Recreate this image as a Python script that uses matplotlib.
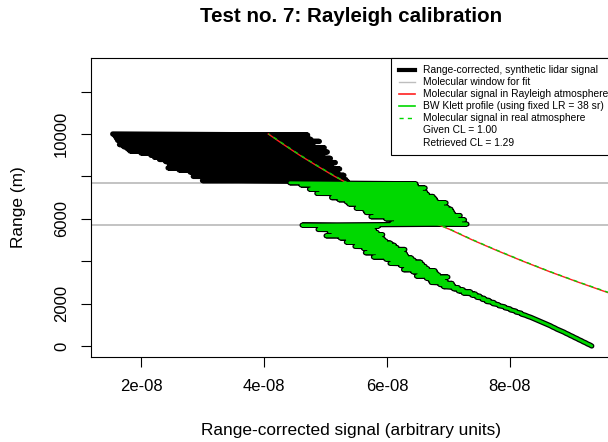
#!/usr/bin/env python3
"""Rayleigh calibration test plot: synthetic lidar signal, molecular fit window and Klett profile."""

import matplotlib

matplotlib.use("Agg")

import matplotlib.pyplot as plt
import numpy as np
from matplotlib.lines import Line2D

plt.rcParams["font.family"] = ["Liberation Sans", "DejaVu Sans"]

# Range gates of the synthetic profile (m)
RANGE_M = np.arange(0, 10001, 50)

# Range-corrected synthetic signal, in units of 1e-8 (one value per gate, 0 m upward)
SIGNAL_E8 = [
    9.33, 9.30, 9.26, 9.23, 9.19, 9.16, 9.12, 9.09, 9.05, 9.02,
    8.98, 8.95, 8.91, 8.88, 8.84, 8.80, 8.76, 8.73, 8.69, 8.66,
    8.62, 8.58, 8.54, 8.50, 8.46, 8.42, 8.38, 8.34, 8.29, 8.25,
    8.19, 8.18, 8.10, 8.09, 8.01, 8.00, 7.92, 7.91, 7.82, 7.81,
    7.72, 7.74, 7.62, 7.66, 7.55, 7.58, 7.46, 7.51, 7.38, 7.44,
    7.24, 7.36, 7.16, 7.24, 7.08, 7.16, 6.92, 7.08, 6.86, 7.06,
    6.72, 6.96, 6.70, 6.92, 6.64, 6.99, 6.48, 6.84, 6.52, 6.80,
    6.42, 6.78, 6.27, 6.66, 6.30, 6.62, 6.22, 6.58, 6.05, 6.55,
    6.08, 6.44, 5.98, 6.40, 5.78, 6.32, 5.84, 6.30, 5.65, 6.26,
    5.70, 6.29, 5.62, 6.16, 5.48, 6.12, 5.50, 6.06, 5.34, 5.98,
    5.36, 5.94, 5.24, 5.90, 5.01, 5.93, 5.12, 5.84, 5.06, 5.80,
    4.88, 5.78, 4.90, 5.86, 4.62, 7.30, 6.08, 7.20, 6.14, 7.26,
    5.98, 7.14, 5.74, 7.19, 5.80, 7.08, 5.66, 7.06, 5.64, 7.04,
    5.50, 6.98, 5.52, 6.90, 5.38, 6.96, 5.34, 6.80, 5.22, 6.78,
    5.10, 6.75, 5.12, 6.66, 4.86, 6.63, 4.92, 6.56, 4.74, 6.62,
    4.78, 6.48, 4.60, 6.47, 4.42, 5.36, 3.00, 5.33, 3.10, 5.22,
    2.85, 5.30, 2.94, 5.20, 2.80, 5.14, 2.62, 5.23, 2.44, 5.10,
    2.52, 5.06, 2.46, 5.16, 2.40, 5.00, 2.30, 5.08, 2.22, 4.92,
    2.16, 4.96, 2.00, 5.03, 1.82, 4.86, 1.78, 4.98, 1.72, 4.80,
    1.65, 4.74, 1.68, 4.90, 1.62, 4.76, 1.60, 4.62, 1.58, 4.71,
    1.54,
]

# Molecular window used for the fit (m); the backward Klett starts at its top
WINDOW_M = [5700, 7700]
KLETT_TOP_M = 7700

# Molecular range-corrected signals (1e-8)
MOL_RANGE_M = [2000, 2500, 3000, 3500, 4000, 4500, 5000, 5500, 6000,
               6500, 7000, 7500, 8000, 8500, 9000, 9500, 10000]
MOL_RAYLEIGH_E8 = [10.13, 9.61, 9.12, 8.65, 8.21, 7.79, 7.39, 7.02, 6.60,
                   6.20, 5.82, 5.47, 5.15, 4.86, 4.58, 4.32, 4.07]
MOL_REAL_E8 = [10.15, 9.63, 9.13, 8.66, 8.22, 7.80, 7.40, 7.03, 6.61,
               6.21, 5.83, 5.48, 5.16, 4.87, 4.59, 4.33, 4.08]

GIVEN_CL = 1.00
RETRIEVED_CL = 1.29
FIXED_LR = 38

X_TICKS = [2e-8, 4e-8, 6e-8, 8e-8]
X_TICK_LABELS = ["2e-08", "4e-08", "6e-08", "8e-08"]
Y_TICKS = [0, 2000, 4000, 6000, 8000, 10000, 12000]
Y_TICK_LABELS = ["0", "2000", "", "6000", "", "10000", ""]

GREEN = "#00D800"
WINDOW_GRAY = "#BEBEBE"


def make_plot(path="out.png"):
    W, H = 608, 442
    fig = plt.figure(figsize=(W / 100, H / 100), dpi=100)
    left, right, top, bottom = 91, 612, 57.5, 357
    ax = fig.add_axes([left / W, 1 - bottom / H, (right - left) / W, (bottom - top) / H])

    rng = np.asarray(RANGE_M)
    sig = np.asarray(SIGNAL_E8) * 1e-8
    klett = rng <= KLETT_TOP_M

    for level in WINDOW_M:
        ax.axhline(level, color=WINDOW_GRAY, linewidth=1.3, zorder=1)

    line_kw = dict(solid_capstyle="round", solid_joinstyle="round")
    ax.plot(sig, rng, color="black", linewidth=3.8, zorder=2, **line_kw)
    ax.plot(np.asarray(MOL_RAYLEIGH_E8) * 1e-8, MOL_RANGE_M, color="#FF2020",
            linewidth=1.0, zorder=3)
    ax.plot(np.asarray(MOL_REAL_E8) * 1e-8, MOL_RANGE_M, color=GREEN,
            linewidth=1.0, dashes=(3, 3), zorder=4)
    ax.plot(sig[klett], rng[klett], color=GREEN, linewidth=2.0, zorder=5, **line_kw)

    ax.set_xlim(1.187e-8, 9.659e-8)
    ax.set_ylim(-519, 13608)
    ax.set_xticks(X_TICKS)
    ax.set_xticklabels(X_TICK_LABELS)
    ax.set_yticks(Y_TICKS)
    ax.set_yticklabels(Y_TICK_LABELS, rotation=90, va="center")
    ax.tick_params(direction="out", length=7.2, width=0.8, labelsize=12, pad=8.5,
                   color="black")
    for spine in ax.spines.values():
        spine.set_linewidth(0.8)
        spine.set_color("black")

    handles = [
        Line2D([], [], color="black", linewidth=3.0),
        Line2D([], [], color=WINDOW_GRAY, linewidth=1.0),
        Line2D([], [], color="#FF2020", linewidth=1.2),
        Line2D([], [], color=GREEN, linewidth=1.2),
        Line2D([], [], color=GREEN, linewidth=1.0, dashes=(3, 3)),
        Line2D([], [], linestyle="none"),
        Line2D([], [], linestyle="none"),
    ]
    labels = [
        "Range-corrected, synthetic lidar signal",
        "Molecular window for fit",
        "Molecular signal in Rayleigh atmosphere",
        f"BW Klett profile (using fixed LR = {FIXED_LR} sr)",
        "Molecular signal in real atmosphere",
        f"Given CL = {GIVEN_CL:.2f}",
        f"Retrieved CL = {RETRIEVED_CL:.2f}",
    ]
    leg = fig.legend(handles, labels, loc="upper left",
                     bbox_to_anchor=(391 / W, 1 - top / H), borderaxespad=0,
                     fontsize=7.4, handlelength=1.6, handletextpad=0.8,
                     borderpad=0.75, labelspacing=0.2, fancybox=False,
                     framealpha=1, edgecolor="black")
    leg.get_frame().set_linewidth(0.8)

    fig.text(351 / W, 1 - 17 / H, "Test no. 7: Rayleigh calibration",
             ha="center", va="center", fontsize=14.8, fontweight="bold")
    fig.text(351 / W, 1 - 431 / H, "Range-corrected signal (arbitrary units)",
             ha="center", va="center", fontsize=12.4)
    fig.text(19 / W, 1 - (top + bottom) / 2 / H, "Range (m)", rotation=90,
             ha="center", va="center", fontsize=12.4)

    fig.savefig(path, dpi=100)
    plt.close(fig)


if __name__ == "__main__":
    make_plot()
